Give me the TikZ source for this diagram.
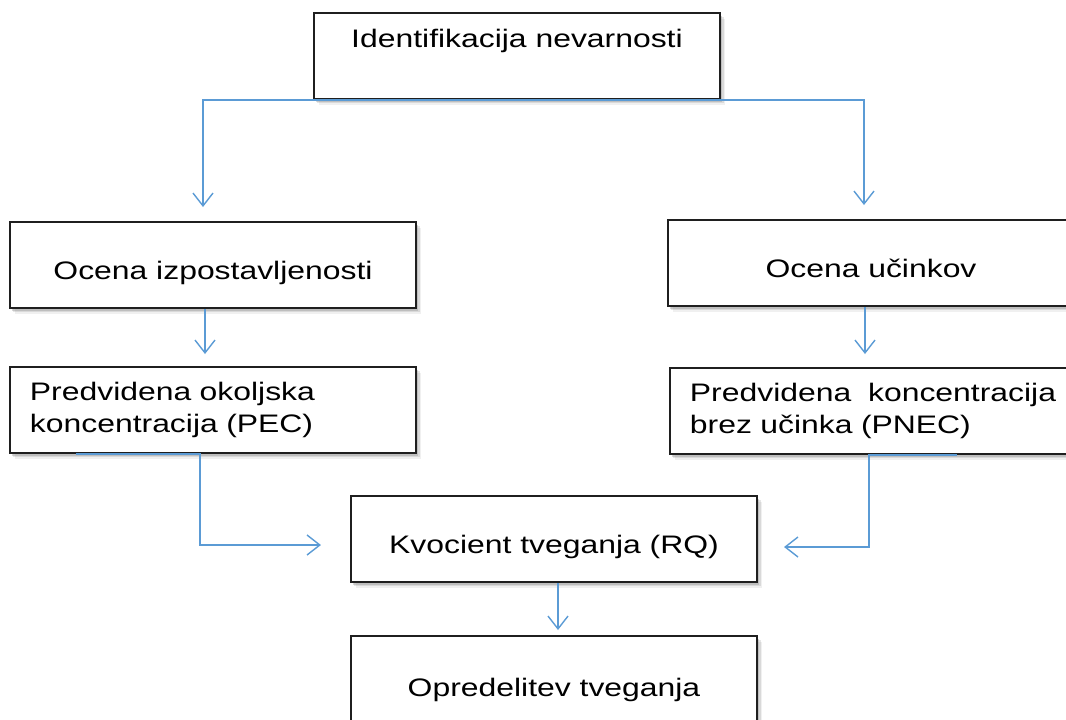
\documentclass[tikz,border=0pt]{standalone}
\usepackage{fontspec}
\setmainfont{Liberation Sans}[FakeStretch=1.26]
\usepackage{tikz}
\usetikzlibrary{arrows.meta, positioning, calc, shadows}
\definecolor{FlowBlue}{HTML}{5B9BD5}
\definecolor{BoxEdge}{HTML}{1F1F1F}

\begin{document}
\begin{tikzpicture}[x=0.025cm, y=-0.025cm,
    stagebase/.style={draw=BoxEdge, line width=1.4pt, fill=white, minimum width=10.15cm, minimum height=2.15cm,
        font=\fontsize{18}{23}\selectfont,
        drop shadow={shadow xshift=3.5pt, shadow yshift=-4pt, opacity=0.12},
        drop shadow={shadow xshift=2.5pt, shadow yshift=-3pt, opacity=0.2},
        drop shadow={shadow xshift=1.5pt, shadow yshift=-2pt, opacity=0.3}},
    stage/.style={stagebase, text height=0.7cm, text depth=0pt},
    stagetop/.style={stagebase, text height=0.55cm, text depth=1.0cm, inner ysep=0.3cm},
    stagetext/.style={stagebase, text width=9.15cm, inner xsep=0.5cm, align=left},
    flow/.style={draw=FlowBlue, line width=1pt, -{Straight Barb[length=3.2mm, width=5mm]}}]
    \useasboundingbox (0,0) rectangle (1066,719);

    % Boxes
    \node[stagetop] (ident) at (517,56) {Identifikacija nevarnosti};
    \node[stage] (izp) at (213,265) {Ocena izpostavljenosti};
    \node[stage] (ucin) at (871,263) {Ocena učinkov};
    \node[stagetext] (pec) at (213,410) {Predvidena okoljska\\koncentracija (PEC)};
    \node[stagetext, text width=9.8cm] (pnec) at (886,411) {Predvidena~ koncentracija\\brez učinka (PNEC)};
    \node[stage] (rq) at (554,539) {Kvocient tveganja (RQ)};
    \node[stage, minimum height=2.3cm] (opred) at (554,682) {Opredelitev tveganja};

    % Connectors
    \draw[flow] (ident.south) -| ($(izp.north)+(-10,-14)$);
    \draw[flow] (ident.south) -| ($(ucin.north)+(-7,-14)$);
    \draw[flow] ($(izp.south)+(-8,0)$) -- ($(pec.north)+(-8,-12)$);
    \draw[flow] ($(ucin.south)+(-6,0)$) -- ($(pnec.north)+(-21,-13)$);
    \draw[flow] ($(pec.south west)+(67,0)$) -- ($(pec.south)+(-13,0)$) |- ($(rq.west)+(-29,6)$);
    \draw[flow] ($(pnec.south west)+(288,0)$) -- ($(pnec.south west)+(200,0)$) |- ($(rq.east)+(26,8)$);
    \draw[flow] ($(rq.south)+(4,0)$) -- ($(opred.north)+(4,-5)$);
\end{tikzpicture}
\end{document}
